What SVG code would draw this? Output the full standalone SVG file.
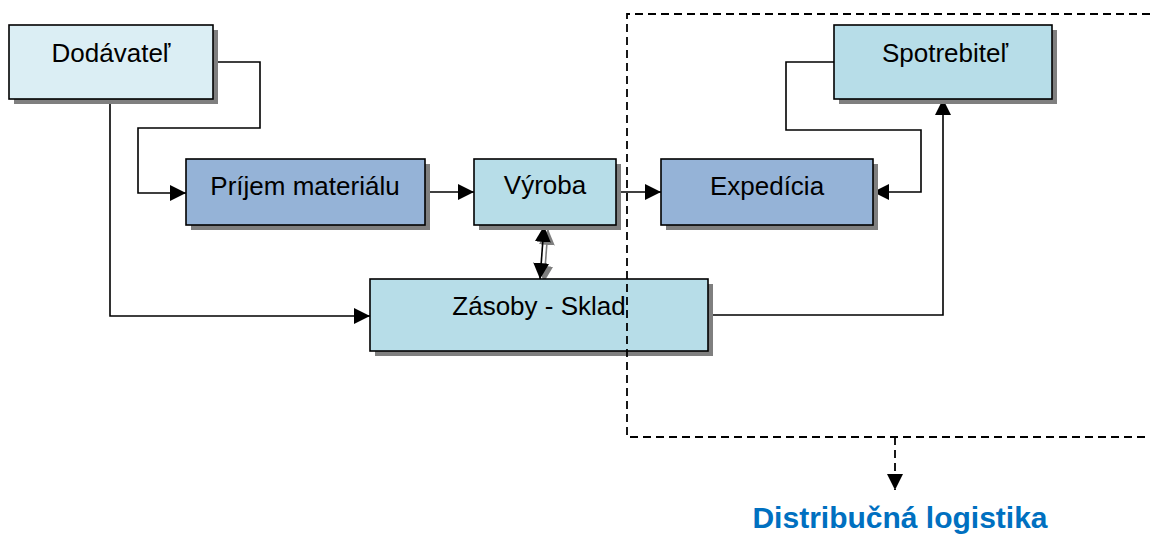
<svg xmlns="http://www.w3.org/2000/svg" width="1150" height="535" viewBox="0 0 1150 535">
<style>
.shadow{fill:#7f7f7f;stroke:none}
.box{stroke:#000;stroke-width:1.6}
.light{fill:#dbeef4}
.aqua{fill:#b7dde8}
.blue{fill:#95b3d7}
.lbl{font-family:"Liberation Sans",Arial,sans-serif;font-size:26px;fill:#000;text-anchor:middle}
.conn{fill:none;stroke:#000;stroke-width:1.6}
.dash{fill:none;stroke:#000;stroke-width:1.8;stroke-dasharray:8,5}
.title{font-family:"Liberation Sans",Arial,sans-serif;font-size:30px;font-weight:bold;fill:#0070c0;text-anchor:middle}
</style>
<defs>
<marker id="ah" viewBox="0 0 16 16" refX="16" refY="8" markerWidth="16" markerHeight="16" markerUnits="userSpaceOnUse" orient="auto-start-reverse" preserveAspectRatio="none">
<path d="M0,0 L16,8 L0,16 Z" fill="#000"/>
</marker>
<marker id="ahg" viewBox="0 0 16 16" refX="16" refY="8" markerWidth="16" markerHeight="16" markerUnits="userSpaceOnUse" orient="auto-start-reverse" preserveAspectRatio="none">
<path d="M0,0 L16,8 L0,16 Z" fill="#7f7f7f"/>
</marker>
</defs>
<rect width="1150" height="535" fill="#fff"/>
<g id="connectors">
<polyline class="conn" points="213,62 260,62 260,128 138,128 138,193 186,193" marker-end="url(#ah)"/>
<polyline class="conn" points="110,99 110,316 370,316" marker-end="url(#ah)"/>
<line class="conn" x1="425" y1="192" x2="474" y2="192" marker-end="url(#ah)"/>
<line class="conn" x1="616" y1="192" x2="661" y2="192" marker-end="url(#ah)"/>
<line x1="548" y1="229" x2="544" y2="282" stroke="#7f7f7f" stroke-width="1.6" marker-start="url(#ahg)" marker-end="url(#ahg)"/>
<line class="conn" x1="544" y1="226" x2="540" y2="279" marker-start="url(#ah)" marker-end="url(#ah)"/>
<polyline class="conn" points="708,315 943,315 943,99" marker-end="url(#ah)"/>
<polyline class="conn" points="834,62 786,62 786,130 921,130 921,192 873,192" marker-end="url(#ah)"/>
<line class="dash" x1="895" y1="437" x2="895" y2="490" marker-end="url(#ah)"/>
</g>
<g id="dodavatel">
<rect class="shadow" x="14" y="30" width="204" height="74"/>
<rect class="box light" x="9" y="25" width="204" height="74"/>
<text class="lbl" x="111" y="62">Dodávateľ</text>
</g>
<g id="prijem">
<rect class="shadow" x="191" y="164" width="239" height="66"/>
<rect class="box blue" x="186" y="159" width="239" height="66"/>
<text class="lbl" x="305" y="195">Príjem materiálu</text>
</g>
<g id="vyroba">
<rect class="shadow" x="479" y="164" width="142" height="66"/>
<rect class="box aqua" x="474" y="159" width="142" height="66"/>
<text class="lbl" x="545" y="194">Výroba</text>
</g>
<g id="expedicia">
<rect class="shadow" x="666" y="164" width="212" height="66"/>
<rect class="box blue" x="661" y="159" width="212" height="66"/>
<text class="lbl" x="767" y="195">Expedícia</text>
</g>
<g id="spotrebitel">
<rect class="shadow" x="839" y="30" width="218" height="74"/>
<rect class="box aqua" x="834" y="25" width="218" height="74"/>
<text class="lbl" x="945" y="62">Spotrebiteľ</text>
</g>
<g id="zasoby">
<rect class="shadow" x="375" y="284" width="338" height="72"/>
<rect class="box aqua" x="370" y="279" width="338" height="72"/>
<text class="lbl" x="539" y="315">Zásoby - Sklad</text>
</g>
<g id="distribucna">
<polyline class="dash" points="1150,14 627,14 627,437 1150,437"/>
<text class="title" x="900" y="528">Distribučná logistika</text>
</g>
</svg>
